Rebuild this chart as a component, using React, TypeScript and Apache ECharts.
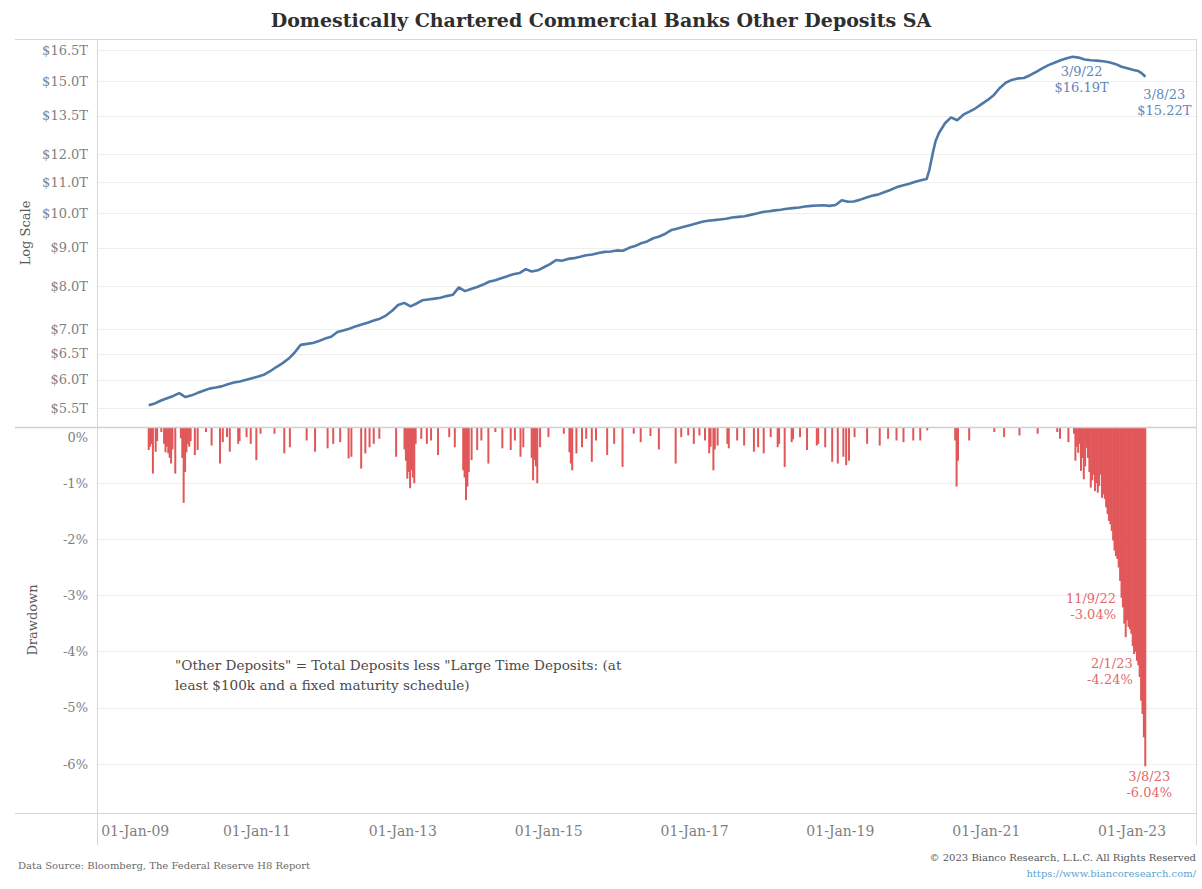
import React, { useEffect, useRef } from "react";
import * as echarts from "echarts";

const TITLE = "Domestically Chartered Commercial Banks Other Deposits SA";
const NOTE =
  '"Other Deposits" = Total Deposits less "Large Time Deposits: (at\nleast $100k and a fixed maturity schedule)';
const SOURCE = "Data Source: Bloomberg, The Federal Reserve H8 Report";
const COPYRIGHT = "\u00a9 2023 Bianco Research, L.L.C. All Rights Reserved";
const URL_TEXT = "https://www.biancoresearch.com/";

// Other deposits, $ trillions (log scale)
const deposits: [string, number][] = [
  ["2009-07-08", 5.55], ["2009-08-08", 5.58], ["2009-09-08", 5.63], ["2009-10-08", 5.67], ["2009-11-08", 5.71], ["2009-12-08", 5.76],
  ["2010-01-08", 5.69], ["2010-02-08", 5.72], ["2010-03-08", 5.76], ["2010-04-08", 5.8], ["2010-05-08", 5.84], ["2010-06-08", 5.86],
  ["2010-07-08", 5.88], ["2010-08-08", 5.92], ["2010-09-08", 5.95], ["2010-10-08", 5.97], ["2010-11-08", 6.0], ["2010-12-08", 6.03],
  ["2011-01-08", 6.06], ["2011-02-08", 6.1], ["2011-03-08", 6.16], ["2011-04-08", 6.24], ["2011-05-08", 6.31], ["2011-06-08", 6.4],
  ["2011-07-08", 6.52], ["2011-08-08", 6.68], ["2011-09-08", 6.7], ["2011-10-08", 6.72], ["2011-11-08", 6.76], ["2011-12-08", 6.81],
  ["2012-01-08", 6.85], ["2012-02-08", 6.95], ["2012-03-08", 6.98], ["2012-04-08", 7.02], ["2012-05-08", 7.07], ["2012-06-08", 7.11],
  ["2012-07-08", 7.15], ["2012-08-08", 7.2], ["2012-09-08", 7.24], ["2012-10-08", 7.31], ["2012-11-08", 7.42], ["2012-12-08", 7.55],
  ["2013-01-08", 7.6], ["2013-02-08", 7.52], ["2013-03-08", 7.58], ["2013-04-08", 7.66], ["2013-05-08", 7.68], ["2013-06-08", 7.7],
  ["2013-07-08", 7.72], ["2013-08-08", 7.76], ["2013-09-08", 7.79], ["2013-10-08", 7.97], ["2013-11-08", 7.88], ["2013-12-08", 7.93],
  ["2014-01-08", 7.98], ["2014-02-08", 8.04], ["2014-03-08", 8.11], ["2014-04-08", 8.15], ["2014-05-08", 8.2], ["2014-06-08", 8.25],
  ["2014-07-08", 8.3], ["2014-08-08", 8.33], ["2014-09-08", 8.43], ["2014-10-08", 8.37], ["2014-11-08", 8.4], ["2014-12-08", 8.48],
  ["2015-01-08", 8.56], ["2015-02-08", 8.67], ["2015-03-08", 8.65], ["2015-04-08", 8.7], ["2015-05-08", 8.72], ["2015-06-08", 8.76],
  ["2015-07-08", 8.8], ["2015-08-08", 8.82], ["2015-09-08", 8.86], ["2015-10-08", 8.89], ["2015-11-08", 8.9], ["2015-12-08", 8.93],
  ["2016-01-08", 8.92], ["2016-02-08", 9.0], ["2016-03-08", 9.05], ["2016-04-08", 9.13], ["2016-05-08", 9.18], ["2016-06-08", 9.27],
  ["2016-07-08", 9.32], ["2016-08-08", 9.4], ["2016-09-08", 9.51], ["2016-10-08", 9.55], ["2016-11-08", 9.6], ["2016-12-08", 9.65],
  ["2017-01-08", 9.7], ["2017-02-08", 9.75], ["2017-03-08", 9.78], ["2017-04-08", 9.8], ["2017-05-08", 9.82], ["2017-06-08", 9.84],
  ["2017-07-08", 9.88], ["2017-08-08", 9.9], ["2017-09-08", 9.92], ["2017-10-08", 9.96], ["2017-11-08", 10.0], ["2017-12-08", 10.05],
  ["2018-01-08", 10.07], ["2018-02-08", 10.1], ["2018-03-08", 10.12], ["2018-04-08", 10.15], ["2018-05-08", 10.17], ["2018-06-08", 10.19],
  ["2018-07-08", 10.22], ["2018-08-08", 10.24], ["2018-09-08", 10.25], ["2018-10-08", 10.26], ["2018-11-08", 10.24], ["2018-12-08", 10.27],
  ["2019-01-08", 10.42], ["2019-02-08", 10.37], ["2019-03-08", 10.38], ["2019-04-08", 10.43], ["2019-05-08", 10.5], ["2019-06-08", 10.56],
  ["2019-07-08", 10.6], ["2019-08-08", 10.68], ["2019-09-08", 10.75], ["2019-10-08", 10.84], ["2019-11-08", 10.9], ["2019-12-08", 10.95],
  ["2020-01-08", 11.02], ["2020-02-08", 11.08], ["2020-03-08", 11.12], ["2020-03-22", 11.45], ["2020-04-08", 12.05], ["2020-04-22", 12.5],
  ["2020-05-08", 12.8], ["2020-06-08", 13.2], ["2020-07-08", 13.44], ["2020-08-08", 13.32], ["2020-09-08", 13.55], ["2020-10-08", 13.68],
  ["2020-11-08", 13.82], ["2020-12-08", 14.0],
  ["2021-01-08", 14.18], ["2021-02-08", 14.4], ["2021-03-08", 14.7], ["2021-04-08", 14.95], ["2021-05-08", 15.08], ["2021-06-08", 15.15],
  ["2021-07-08", 15.17], ["2021-08-08", 15.3], ["2021-09-08", 15.46], ["2021-10-08", 15.62], ["2021-11-08", 15.78], ["2021-12-08", 15.9],
  ["2022-01-08", 16.02], ["2022-02-08", 16.12], ["2022-03-09", 16.19], ["2022-04-08", 16.15], ["2022-05-08", 16.06], ["2022-06-08", 16.02],
  ["2022-07-08", 16.0], ["2022-08-08", 15.97], ["2022-09-08", 15.92], ["2022-10-08", 15.84], ["2022-11-09", 15.7], ["2022-12-08", 15.63],
  ["2023-01-08", 15.55], ["2023-02-01", 15.5], ["2023-02-15", 15.41], ["2023-03-01", 15.3], ["2023-03-08", 15.22],
];

// Drawdown from running peak, % (weekly spikes)
const drawdown2009to2015: [string, number][] = [
  ["2009-07-08", -0.41], ["2009-07-15", -0.35], ["2009-07-22", -0.3], ["2009-07-29", -0.83], ["2009-08-12", -0.44], ["2009-08-19", -0.25],
  ["2009-09-09", -0.09], ["2009-09-23", -0.3], ["2009-09-30", -0.45], ["2009-10-07", -0.35], ["2009-10-14", -0.47], ["2009-10-21", -0.55],
  ["2009-10-28", -0.65], ["2009-11-04", -0.4], ["2009-11-18", -0.83], ["2009-12-16", -0.2], ["2009-12-23", -0.55], ["2009-12-30", -1.35],
  ["2010-01-06", -0.8], ["2010-01-13", -0.45], ["2010-01-20", -0.3], ["2010-01-27", -0.35], ["2010-02-03", -0.25], ["2010-02-24", -0.5],
  ["2010-03-10", -0.41], ["2010-04-21", -0.09], ["2010-05-19", -0.33], ["2010-06-30", -0.65], ["2010-07-14", -0.27], ["2010-08-04", -0.18],
  ["2010-08-18", -0.44], ["2010-09-29", -0.3], ["2010-10-06", -0.25], ["2010-11-10", -0.18], ["2010-12-01", -0.3], ["2010-12-29", -0.59],
  ["2011-01-19", -0.12], ["2011-03-30", -0.12], ["2011-05-18", -0.47], ["2011-06-15", -0.36], ["2011-09-07", -0.24], ["2011-10-19", -0.44],
  ["2011-12-21", -0.38], ["2012-01-18", -0.3], ["2012-02-22", -0.27], ["2012-04-04", -0.56], ["2012-04-18", -0.53], ["2012-06-06", -0.74],
  ["2012-06-27", -0.47], ["2012-07-18", -0.36], ["2012-08-08", -0.3], ["2012-09-05", -0.21], ["2012-11-28", -0.53], ["2013-01-09", -0.4],
  ["2013-01-16", -0.6], ["2013-01-23", -0.92], ["2013-01-30", -0.8], ["2013-02-06", -1.09], ["2013-02-13", -0.77], ["2013-02-20", -0.9],
  ["2013-02-27", -1.0], ["2013-03-06", -0.3], ["2013-04-03", -0.21], ["2013-05-01", -0.3], ["2013-05-22", -0.24], ["2013-06-26", -0.5],
  ["2013-08-21", -0.18], ["2013-09-18", -0.36], ["2013-10-30", -0.77], ["2013-11-06", -0.9], ["2013-11-13", -1.3], ["2013-11-20", -1.06],
  ["2013-11-27", -0.8], ["2013-12-11", -0.59], ["2014-01-08", -0.41], ["2014-01-29", -0.24], ["2014-03-05", -0.65], ["2014-04-09", -0.09],
  ["2014-05-14", -0.38], ["2014-06-25", -0.41], ["2014-07-16", -0.24], ["2014-08-13", -0.53], ["2014-08-27", -0.36], ["2014-10-08", -0.55],
  ["2014-10-15", -0.95], ["2014-10-22", -0.59], ["2014-10-29", -0.7], ["2014-11-05", -1.0], ["2014-11-19", -0.36], ["2014-12-31", -0.18],
  ["2015-03-18", -0.12], ["2015-04-15", -0.45], ["2015-04-22", -0.65], ["2015-04-29", -0.77], ["2015-05-20", -0.47], ["2015-06-17", -0.36],
  ["2015-07-08", -0.21], ["2015-08-05", -0.62], ["2015-08-26", -0.24], ["2015-10-21", -0.5], ["2015-11-25", -0.3],
];

const drawdown2016to2021: [string, number][] = [
  ["2016-01-06", -0.71], ["2016-03-02", -0.12], ["2016-04-06", -0.27], ["2016-05-25", -0.16], ["2016-07-06", -0.4], ["2016-09-28", -0.65],
  ["2016-10-26", -0.18], ["2016-11-30", -0.15], ["2016-12-28", -0.3], ["2017-01-25", -0.15], ["2017-02-22", -0.24], ["2017-03-15", -0.47],
  ["2017-03-22", -0.35], ["2017-04-05", -0.77], ["2017-04-12", -0.4], ["2017-04-26", -0.33], ["2017-06-14", -0.3], ["2017-06-21", -0.38],
  ["2017-08-02", -0.24], ["2017-09-06", -0.33], ["2017-10-25", -0.44], ["2017-11-15", -0.36], ["2017-12-13", -0.47], ["2018-01-17", -0.18],
  ["2018-02-21", -0.36], ["2018-02-28", -0.3], ["2018-03-28", -0.71], ["2018-05-02", -0.27], ["2018-05-09", -0.22], ["2018-06-13", -0.18],
  ["2018-07-18", -0.41], ["2018-09-05", -0.33], ["2018-09-12", -0.3], ["2018-10-17", -0.36], ["2018-11-21", -0.62], ["2018-12-19", -0.65],
  ["2019-01-16", -0.53], ["2019-01-30", -0.68], ["2019-02-13", -0.6], ["2019-03-13", -0.18], ["2019-05-15", -0.3], ["2019-07-17", -0.33],
  ["2019-08-28", -0.21], ["2019-10-09", -0.24], ["2019-11-13", -0.27], ["2020-01-01", -0.24], ["2020-02-05", -0.24], ["2020-03-11", -0.06],
  ["2020-07-29", -0.24], ["2020-08-05", -1.06], ["2020-08-12", -0.6], ["2020-10-07", -0.24], ["2021-02-10", -0.09], ["2021-03-31", -0.18],
  ["2021-06-16", -0.15], ["2021-09-15", -0.12], ["2021-12-22", -0.09],
];

const drawdown2022to2023: [string, number][] = [
  ["2022-01-05", -0.21], ["2022-02-16", -0.27], ["2022-03-16", -0.12], ["2022-03-23", -0.6], ["2022-03-30", -0.35], ["2022-04-06", -0.46],
  ["2022-04-13", -0.3], ["2022-04-20", -0.78], ["2022-04-27", -0.55], ["2022-05-04", -0.93], ["2022-05-11", -0.7], ["2022-05-18", -0.37],
  ["2022-05-25", -0.55], ["2022-06-01", -0.8], ["2022-06-08", -1.08], ["2022-06-15", -0.95], ["2022-06-22", -0.85], ["2022-06-29", -1.14],
  ["2022-07-06", -1.0], ["2022-07-13", -1.17], ["2022-07-20", -1.05], ["2022-07-27", -0.85], ["2022-08-03", -1.26], ["2022-08-10", -1.2],
  ["2022-08-17", -1.28], ["2022-08-24", -1.43], ["2022-08-31", -1.55], ["2022-09-07", -1.67], ["2022-09-14", -1.73], ["2022-09-21", -1.85],
  ["2022-09-28", -2.02], ["2022-10-05", -2.2], ["2022-10-12", -2.3], ["2022-10-19", -2.35], ["2022-10-26", -2.5], ["2022-11-02", -2.74],
  ["2022-11-09", -3.04], ["2022-11-16", -3.21], ["2022-11-23", -3.5], ["2022-11-30", -3.74], ["2022-12-07", -3.44], ["2022-12-14", -3.56],
  ["2022-12-21", -3.6], ["2022-12-28", -3.68], ["2023-01-04", -3.9], ["2023-01-11", -4.04], ["2023-01-18", -4.0], ["2023-01-25", -4.16],
  ["2023-02-01", -4.24], ["2023-02-08", -4.45], ["2023-02-15", -4.87], ["2023-02-22", -5.11], ["2023-03-01", -5.52], ["2023-03-08", -6.04],
];

// Annotated points
const depositNotes: [string, number][] = [
  ["2022-03-09", 16.19],
  ["2023-03-08", 15.22],
];
const drawdownNotes: [string, number][] = [
  ["2022-11-09", -3.04],
  ["2023-02-01", -4.24],
  ["2023-03-08", -6.04],
];

// Axes
const logTicks = [5.5, 6.0, 6.5, 7.0, 8.0, 9.0, 10.0, 11.0, 12.0, 13.5, 15.0, 16.5];
const drawdownTicks = [-6, -5, -4, -3, -2, -1, 0];
const xTickDates = ["2009-01-01", "2011-01-01", "2013-01-01", "2015-01-01", "2017-01-01", "2019-01-01", "2021-01-01", "2023-01-01"];
const X_START = "2008-10-22";
const X_END = "2023-11-22";
const LOG_MIN = 5.19;
const LOG_MAX = 17.1;
const DD_MIN = -6.87;
const DD_MAX = 0;

const MONTHS = ["Jan", "Feb", "Mar", "Apr", "May", "Jun", "Jul", "Aug", "Sep", "Oct", "Nov", "Dec"];
const FONT = "'DejaVu Serif', 'Liberation Serif', serif";
const AXIS_TEXT = "#7f7f7f";
const FRAME = "#d6d6d6";
const GRID_LINE = "#efefef";
const BLUE = "#4e79a7";
const BLUE_TEXT = "#5f86b8";
const RED = "#e15759";
const RED_TEXT = "#e5696b";

const ts = (s: string) => new Date(s + "T00:00:00").getTime();
const shortDate = (s: string) => {
  const [y, m, d] = s.split("-").map(Number);
  return `${m}/${d}/${String(y).slice(2)}`;
};
const xLabel = (v: number) => {
  const d = new Date(v);
  return `01-${MONTHS[d.getMonth()]}-${String(d.getFullYear()).slice(2)}`;
};

export default function App() {
  const ref = useRef<HTMLDivElement>(null);

  useEffect(() => {
    if (!ref.current) return;
    const chart = echarts.init(ref.current, undefined, { renderer: "svg" });
    const xTicks = xTickDates.map(ts);
    const firstTick = xTicks[0];
    const xMin = ts(X_START);
    const xMax = ts(X_END);
    const depositData = deposits.map(([d, v]) => [ts(d), v]);
    const drawdownData = [...drawdown2009to2015, ...drawdown2016to2021, ...drawdown2022to2023].map(([d, v]) => [ts(d), v]);

    const option: any = {
      animation: false,
      backgroundColor: "#ffffff",
      textStyle: { fontFamily: FONT },
      title: {
        text: TITLE,
        left: "center",
        top: 5,
        textStyle: { fontFamily: FONT, fontSize: 19, fontWeight: "bold", color: "#2e2e2e" },
      },
      grid: [
        { left: 97, top: 39, width: 1100, height: 388 },
        { left: 97, top: 427, width: 1100, height: 386 },
      ],
      xAxis: [
        { type: "value", gridIndex: 0, min: xMin, max: xMax, show: false, splitLine: { show: false } },
        {
          type: "value",
          gridIndex: 1,
          min: xMin,
          max: xMax,
          axisLine: { show: false },
          axisTick: { show: false, customValues: xTicks },
          splitLine: { show: false },
          axisLabel: {
            customValues: xTicks,
            formatter: (v: number) => (v === firstTick ? `{first|${xLabel(v)}}` : xLabel(v)),
            rich: { first: { padding: [0, 0, 0, 48], color: AXIS_TEXT, fontSize: 14, fontFamily: FONT } },
            color: AXIS_TEXT,
            fontSize: 14,
            fontFamily: FONT,
            margin: 11,
          },
        },
      ],
      yAxis: [
        {
          type: "log",
          gridIndex: 0,
          min: LOG_MIN,
          max: LOG_MAX,
          axisLine: { show: false },
          axisTick: { show: false },
          axisLabel: { show: false },
          splitLine: { show: false },
          name: "Log Scale",
          nameLocation: "middle",
          nameGap: 65,
          nameTextStyle: { fontFamily: FONT, fontSize: 13, color: "#595959" },
        },
        {
          type: "value",
          gridIndex: 1,
          min: DD_MIN,
          max: DD_MAX,
          axisLine: { show: false },
          axisTick: { show: false, customValues: drawdownTicks },
          axisLabel: {
            customValues: drawdownTicks,
            formatter: (v: number) => (v === 0 ? `{zero|${v}%}` : `${v}%`),
            rich: { zero: { padding: [4, 0, 0, 0], color: AXIS_TEXT, fontSize: 13, fontFamily: FONT } },
            color: AXIS_TEXT,
            fontSize: 13,
            fontFamily: FONT,
            margin: 9,
            verticalAlignMaxLabel: "top",
          },
          splitLine: { show: true, lineStyle: { color: GRID_LINE, width: 1 } },
          name: "Drawdown",
          nameLocation: "middle",
          nameGap: 58,
          nameTextStyle: { fontFamily: FONT, fontSize: 13, color: "#595959" },
        },
      ],
      series: [
        {
          type: "line",
          xAxisIndex: 0,
          yAxisIndex: 0,
          data: depositData,
          symbol: "none",
          showSymbol: false,
          lineStyle: { color: BLUE, width: 2.6 },
          z: 3,
          markLine: {
            silent: true,
            z: 1,
            symbol: ["none", "none"],
            lineStyle: { color: GRID_LINE, width: 1, type: "solid" },
            emphasis: { disabled: true },
            label: {
              show: true,
              position: "start",
              distance: 9,
              formatter: (p: any) => `$${Number(p.value).toFixed(1)}T`,
              color: AXIS_TEXT,
              fontSize: 13,
              fontFamily: FONT,
            },
            data: logTicks.map((v) => ({ yAxis: v })),
          },
          markPoint: {
            silent: true,
            symbol: "circle",
            symbolSize: 1,
            itemStyle: { color: "rgba(0,0,0,0)" },
            label: {
              show: true,
              position: "bottom",
              color: BLUE_TEXT,
              fontSize: 13,
              fontFamily: FONT,
              lineHeight: 16,
              align: "center",
            },
            data: depositNotes.map(([d, v], i) => ({
              coord: [ts(d), v],
              label: {
                formatter: `${shortDate(d)}\n$${v.toFixed(2)}T`,
                offset: i === 0 ? [9, 1] : [19, 4],
              },
            })),
          },
        },
        {
          type: "bar",
          xAxisIndex: 1,
          yAxisIndex: 1,
          data: drawdownData,
          barWidth: 2,
          itemStyle: { color: RED },
          markPoint: {
            silent: true,
            symbol: "circle",
            symbolSize: 1,
            itemStyle: { color: "rgba(0,0,0,0)" },
            label: {
              show: true,
              color: RED_TEXT,
              fontSize: 13,
              fontFamily: FONT,
              lineHeight: 16,
            },
            data: drawdownNotes.map(([d, v], i) => ({
              coord: [ts(d), v],
              label: {
                formatter: `${shortDate(d)}\n${v.toFixed(2)}%`,
                position: i === 2 ? "bottom" : "left",
                distance: i === 2 ? 2 : 5,
                align: i === 2 ? "center" : "right",
                offset: i === 0 ? [0, 9] : i === 1 ? [0, 6] : [4, 0],
              },
            })),
          },
        },
      ],
      graphic: [
        { type: "line", silent: true, z: 10, shape: { x1: 15, y1: 39.5, x2: 1197, y2: 39.5 }, style: { stroke: FRAME, lineWidth: 1 } },
        { type: "line", silent: true, z: 10, shape: { x1: 15, y1: 427.5, x2: 1197, y2: 427.5 }, style: { stroke: "#cfcfcf", lineWidth: 1.5 } },
        { type: "line", silent: true, z: 10, shape: { x1: 15, y1: 813.5, x2: 1197, y2: 813.5 }, style: { stroke: FRAME, lineWidth: 1 } },
        { type: "line", silent: true, z: 10, shape: { x1: 97.5, y1: 39, x2: 97.5, y2: 845 }, style: { stroke: FRAME, lineWidth: 1 } },
        { type: "line", silent: true, z: 10, shape: { x1: 1196.5, y1: 39, x2: 1196.5, y2: 845 }, style: { stroke: FRAME, lineWidth: 1 } },
        {
          type: "text",
          left: 175,
          top: 655,
          style: { text: NOTE, fill: "#4a4a4a", fontSize: 13.6, fontFamily: FONT, lineHeight: 20 },
        },
        {
          type: "text",
          left: 18,
          top: 860,
          style: { text: SOURCE, fill: "#6a6a6a", fontSize: 10, fontFamily: FONT },
        },
        {
          type: "text",
          right: 6,
          top: 852,
          style: { text: COPYRIGHT, fill: "#555555", fontSize: 10, fontFamily: FONT },
        },
        {
          type: "text",
          right: 6,
          top: 868,
          style: { text: URL_TEXT, fill: "#5fa3cf", fontSize: 10, fontFamily: FONT },
        },
      ],
    };

    chart.setOption(option);
    return () => chart.dispose();
  }, []);

  return (
    <div
      ref={ref}
      style={{ position: "absolute", left: 0, top: 0, width: 1202, height: 889, background: "#fff" }}
    />
  );
}
